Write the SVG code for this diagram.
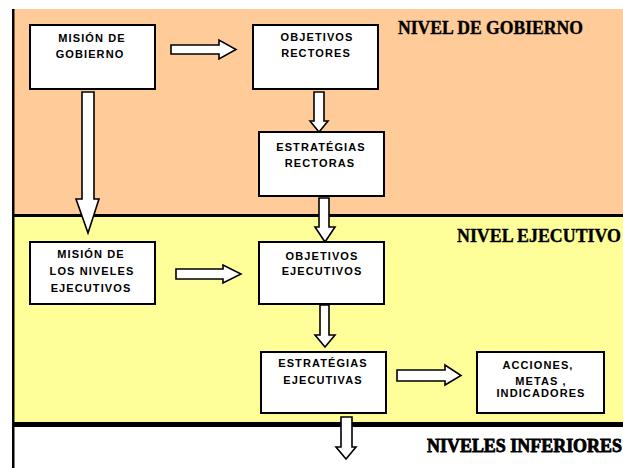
<svg xmlns="http://www.w3.org/2000/svg" width="623" height="468" viewBox="0 0 623 468">
<style>
.box{fill:#fff;stroke:#000;stroke-width:2}
.t{font-family:"Liberation Sans",Arial,sans-serif;font-size:11px;font-weight:bold;letter-spacing:1.1px;fill:#000;text-anchor:middle}
.lvl{font-family:"Liberation Serif","Times New Roman",serif;font-weight:bold;font-size:18px;fill:#000}
.arr{fill:#fff;stroke:#000;stroke-width:1.6;stroke-linejoin:miter}
</style>
<rect width="623" height="468" fill="#fff"/>
<g id="zones">
<rect x="13" y="9" width="610" height="206" fill="#FFCC99"/>
<rect x="13" y="215" width="610" height="208" fill="#FFFF99"/>
<rect x="13" y="214" width="610" height="3" fill="#000"/>
<rect x="13" y="422" width="610" height="5" fill="#000"/>
<rect x="12" y="9" width="2.5" height="459" fill="#000"/>
</g>
<g id="labels">
<text class="lvl" x="398" y="34" textLength="185" lengthAdjust="spacingAndGlyphs" stroke="#000" stroke-width="0.4">NIVEL DE GOBIERNO</text>
<text class="lvl" x="457" y="242" textLength="164" lengthAdjust="spacingAndGlyphs" stroke="#000" stroke-width="0.4">NIVEL EJECUTIVO</text>
<text class="lvl" x="427" y="452" textLength="195" lengthAdjust="spacingAndGlyphs" stroke="#000" stroke-width="0.8">NIVELES INFERIORES</text>
</g>
<g id="connectors">
<polygon class="arr" points="82,92 94,92 94,199 99,199 88,233 76,199 82,199"/>
<polygon class="arr" points="171,45 219,45 219,40 236,49.5 219,59 219,54 171,54"/>
<polygon class="arr" points="314,92 324,92 324,121 328,121 319,132 310,121 314,121"/>
<polygon class="arr" points="319,198 329,198 329,227 335,227 325,242 315,227 319,227"/>
<polygon class="arr" points="176,269 223,269 223,265 241,274 223,283 223,279 176,279"/>
<polygon class="arr" points="320,305 329,305 329,335 335,335 325,347 315,335 320,335"/>
<polygon class="arr" points="397,370 445,370 445,365 461,375.5 445,385 445,381 397,381"/>
<polygon class="arr" points="341,417 352,417 352,447 356,447 346,459 336,447 341,447"/>
</g>
<g id="mision-gobierno">
<rect class="box" x="30" y="25" width="125" height="64"/>
<text class="t" x="92" y="42">MISIÓN DE</text>
<text class="t" x="90" y="58">GOBIERNO</text>
</g>
<g id="objetivos-rectores">
<rect class="box" x="253" y="25" width="125" height="64"/>
<text class="t" x="317" y="41">OBJETIVOS</text>
<text class="t" x="316" y="57">RECTORES</text>
</g>
<g id="estrategias-rectoras">
<rect class="box" x="259" y="132" width="125" height="64"/>
<text class="t" x="321" y="151">ESTRATÉGIAS</text>
<text class="t" x="320" y="167">RECTORAS</text>
</g>
<g id="mision-niveles">
<rect class="box" x="30" y="242" width="125" height="62"/>
<text class="t" x="91" y="258">MISIÓN DE</text>
<text class="t" x="92" y="275">LOS NIVELES</text>
<text class="t" x="91" y="292">EJECUTIVOS</text>
</g>
<g id="objetivos-ejecutivos">
<rect class="box" x="259" y="242" width="125" height="62"/>
<text class="t" x="322" y="260">OBJETIVOS</text>
<text class="t" x="322" y="275">EJECUTIVOS</text>
</g>
<g id="estrategias-ejecutivas">
<rect class="box" x="261" y="352" width="125" height="61"/>
<text class="t" x="323" y="367">ESTRATÉGIAS</text>
<text class="t" x="323" y="384">EJECUTIVAS</text>
</g>
<g id="acciones">
<rect class="box" x="477" y="352" width="127" height="61"/>
<text class="t" x="538" y="369">ACCIONES,</text>
<text class="t" x="541" y="385">METAS ,</text>
<text class="t" x="541" y="397">INDICADORES</text>
</g>
</svg>
